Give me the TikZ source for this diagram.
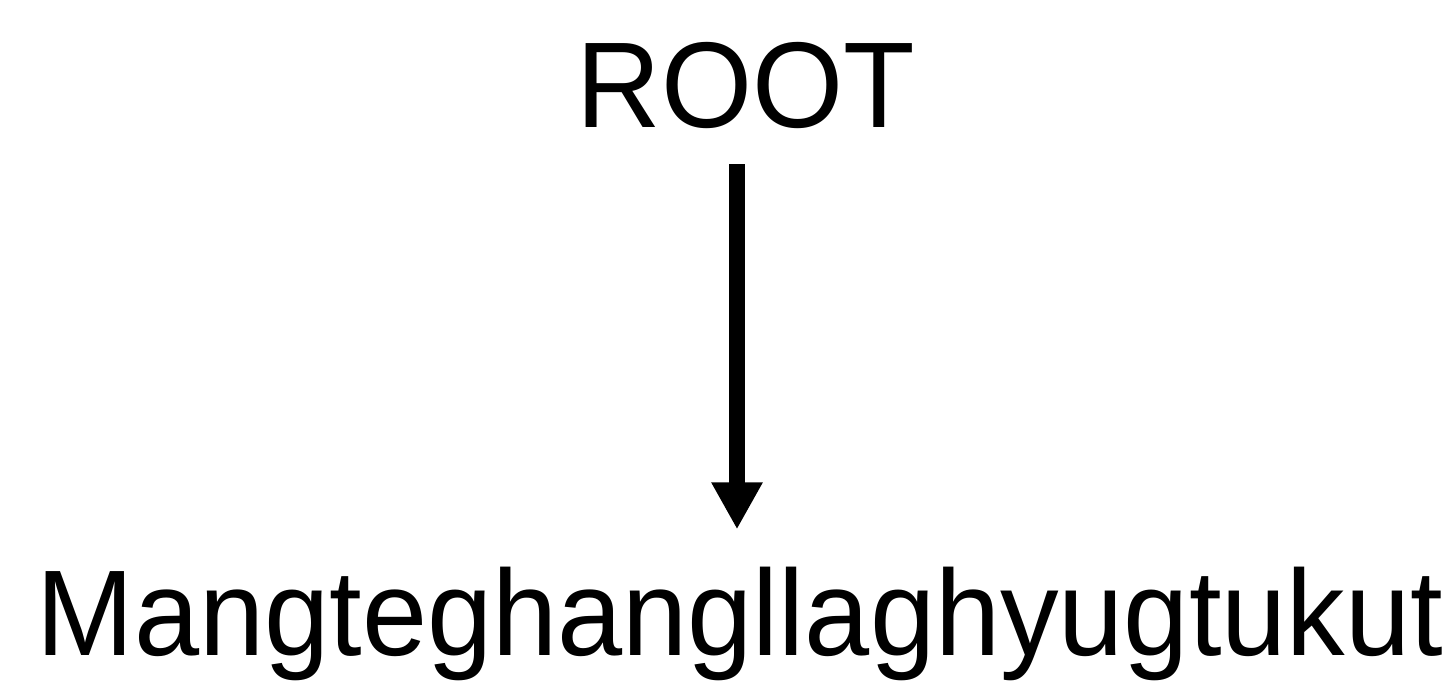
\documentclass[tikz,border=0pt]{standalone}
\usepackage{graphicx}
\usepackage{fontspec}
\setmainfont{Liberation Sans}
\usetikzlibrary{arrows.meta}
\begin{document}
\begin{tikzpicture}[x=1pt,y=-1pt,
  lbl/.style={inner sep=0pt, font=\fontsize{122}{140}\selectfont, anchor=base},
  edge/.style={line width=16pt, -{Triangle[width=48pt,length=47pt]}}]
\useasboundingbox (0,0) rectangle (1451,684);
\node[lbl] (root) at (746,128) {\scalebox{0.96}[1]{ROOT}};
\node[lbl] (leaf) at (740,655) {\scalebox{0.96}[1]{Mangteghangllaghyugtukut}};
\draw[edge, shorten <=35pt, shorten >=37pt] ([xshift=-9pt]root.south) -- ([xshift=-9pt]root.south |- leaf.north);
\end{tikzpicture}
\end{document}
